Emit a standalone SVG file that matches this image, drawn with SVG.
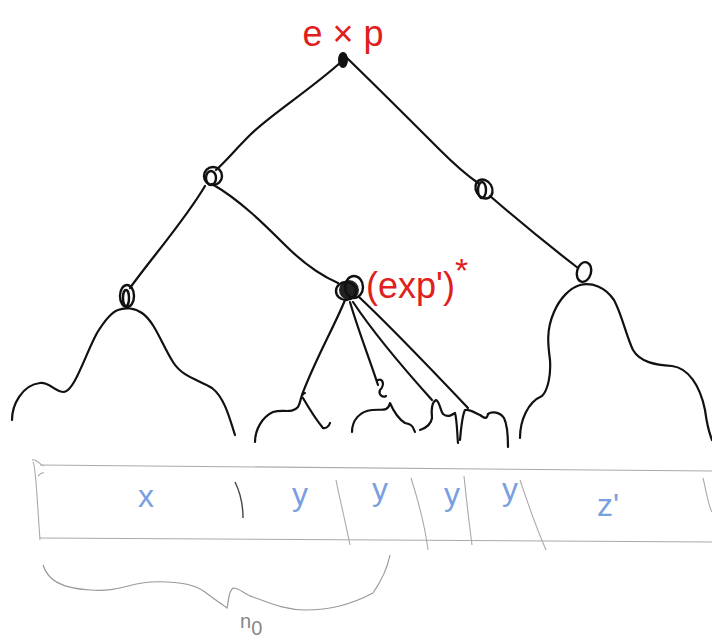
<svg xmlns="http://www.w3.org/2000/svg" width="712" height="642" viewBox="0 0 712 642">
<style>
.ink{fill:none;stroke:#111;stroke-width:2.2;stroke-linecap:round;stroke-linejoin:round}
.knot{fill:none;stroke:#111;stroke-width:2.4}
.red{fill:#e0201c;font-family:"Liberation Sans",sans-serif}
.blue{fill:#7a9fe0;font-family:"Liberation Sans",sans-serif;font-size:32px}
.grid{fill:none;stroke:#aaa;stroke-width:1.1}
.gray{fill:none;stroke:#999;stroke-width:1.2}
</style>
<rect width="712" height="642" fill="#fff"/>
<g id="connectors">
<path class="ink" d="M341,62 C310,90 270,115 250,135 C235,150 225,162 216,170"/>
<path class="ink" d="M347,58 C380,90 410,120 440,150 C455,165 468,176 478,183"/>
<path class="ink" d="M490,196 C520,222 552,248 578,268"/>
<path class="ink" d="M205,186 C185,220 150,260 130,288"/>
<path class="ink" d="M212,184 C240,200 265,225 285,245 C305,265 322,276 338,283"/>
<path class="ink" d="M345,300 C335,325 315,360 302,395"/>
<path class="ink" d="M350,302 C358,330 370,360 378,385"/>
<path class="ink" d="M353,302 C375,335 405,370 432,400"/>
<path class="ink" d="M359,297 C392,328 432,370 468,408"/>
</g>
<g id="node-root">
<ellipse cx="343" cy="60" rx="5" ry="8" fill="#111"/>
<text class="red" x="343" y="46" font-size="36" text-anchor="middle">e × p</text>
</g>
<g id="node-left">
<circle class="knot" cx="213" cy="176" r="9"/>
<ellipse class="knot" cx="211" cy="178" rx="5" ry="7"/>
</g>
<g id="node-right">
<ellipse class="knot" cx="484" cy="189" rx="8" ry="10" transform="rotate(-30 484 189)"/>
<ellipse class="knot" cx="482" cy="190" rx="4" ry="8"/>
</g>
<g id="node-leftleft">
<ellipse class="knot" cx="127" cy="296" rx="7" ry="11"/>
<ellipse class="knot" cx="126" cy="298" rx="3" ry="8"/>
</g>
<g id="node-mid">
<circle cx="349" cy="290" r="10" fill="#222"/>
<ellipse class="knot" cx="354" cy="287" rx="9" ry="11"/>
<ellipse class="knot" cx="346" cy="291" rx="10" ry="9"/>
<text class="red" x="366" y="298" font-size="36">(exp')<tspan dy="-16" font-size="34">*</tspan></text>
</g>
<g id="node-rightright">
<ellipse class="knot" cx="584" cy="272" rx="7" ry="10" transform="rotate(15 584 272)"/>
</g>
<g id="subtrees">
<path class="ink" d="M12,420 C12,405 22,385 40,383 C50,382 55,392 64,392 C75,390 85,355 97,333 C105,320 112,312 118,310 C125,307 135,308 142,313 C155,322 162,345 173,362 C183,378 200,380 212,388 C225,398 230,420 235,435"/>
<path class="ink" d="M255,442 C255,430 262,417 273,412 C283,409 292,414 298,407 C302,400 300,394 305,393"/>
<path class="ink" d="M303,398 C310,410 318,422 323,428 C326,429 329,426 330,423"/>
<path class="ink" d="M378,380 C383,378 385,385 380,390 C378,395 383,398 386,396"/>
<path class="ink" d="M352,432 C352,420 360,411 372,410 C382,409 388,412 390,403 C393,410 397,418 405,423 C410,424 413,425 415,432"/>
<path class="ink" d="M420,430 C426,428 431,425 432,418 C431,408 432,402 436,400 C440,402 440,410 443,414 C448,418 452,415 455,413 C457,420 457,432 458,443"/>
<path class="ink" d="M460,440 C461,428 462,416 465,410 C470,409 475,413 480,415 C484,418 487,420 488,414 C492,411 500,412 504,418 C508,426 508,437 508,447"/>
<path class="ink" d="M520,438 C520,420 528,402 542,396 C548,390 551,375 550,360 C548,345 546,330 554,312 C560,298 570,288 580,285 C592,282 605,287 614,300 C622,315 626,335 633,350 C640,362 655,365 672,366 C688,368 700,385 705,410 C707,425 710,435 712,440"/>
</g>
<g id="strip">
<path class="grid" d="M40,465 L712,471"/>
<path class="grid" d="M40,538 L712,542"/>
<path class="grid" d="M33,462 C36,466 37,500 40,540 M32,460 C36,458 40,465 44,466 M38,476 C40,474 42,472 44,473"/>
<path d="M235,482 C240,492 243,505 243,518" fill="none" stroke="#444" stroke-width="1.4"/>
<path class="grid" d="M336,480 C340,500 345,520 350,545"/>
<path class="grid" d="M411,478 C418,500 425,525 428,550"/>
<path class="grid" d="M464,476 C466,495 468,515 472,545"/>
<path class="grid" d="M520,480 C527,500 533,520 546,550"/>
<path class="grid" d="M703,478 C706,490 708,505 712,512"/>
<text class="blue" x="146" y="507" text-anchor="middle">x</text>
<text class="blue" x="300" y="505" text-anchor="middle">y</text>
<text class="blue" x="380" y="500" text-anchor="middle">y</text>
<text class="blue" x="452" y="505" text-anchor="middle">y</text>
<text class="blue" x="510" y="500" text-anchor="middle">y</text>
<text class="blue" x="608" y="516" text-anchor="middle">z'</text>
</g>
<g id="brace">
<path class="gray" d="M43,565 C48,580 60,588 90,590 C120,592 130,583 150,582 C172,581 193,583 205,592 C215,600 222,604 227,608 C229,600 228,592 233,588 C240,588 245,595 253,597 C270,603 285,610 305,610 C330,610 350,605 373,593 C382,580 388,565 390,555"/>
<text x="240" y="628" font-family="Liberation Sans,sans-serif" font-size="20" fill="#888">n<tspan dy="7" font-size="20">0</tspan></text>
</g>
</svg>
